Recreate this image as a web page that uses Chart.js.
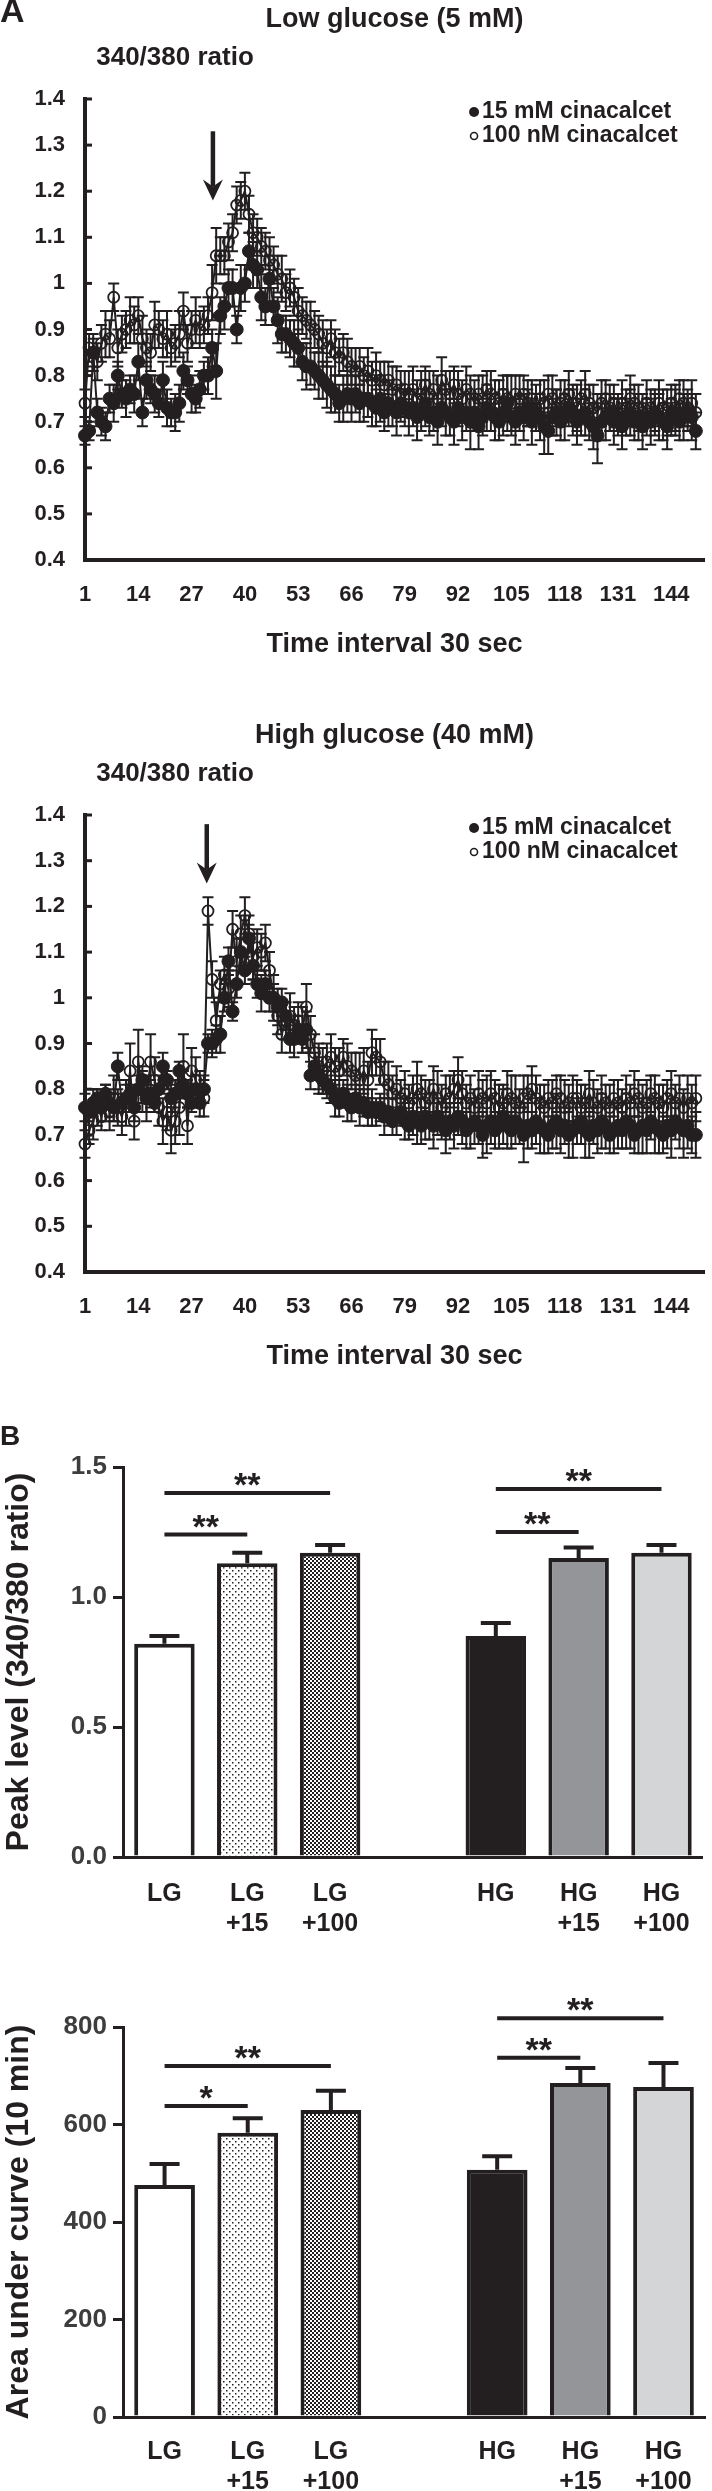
<!DOCTYPE html>
<html>
<head>
<meta charset="utf-8">
<title>Cinacalcet calcium response</title>
<script src="https://cdn.jsdelivr.net/npm/chart.js@4.4.1/dist/chart.umd.min.js"></script>
<style>
  html, body { margin: 0; padding: 0; background: #fff; }
  #page { position: relative; width: 712px; height: 2491px; }
  canvas { position: absolute; left: 0; }
</style>
</head>
<body>
<div id="page">
  <canvas id="lowGlu" width="712" height="668" style="top:0px"></canvas>
  <canvas id="highGlu" width="712" height="712" style="top:668px"></canvas>
  <canvas id="peak" width="712" height="580" style="top:1380px"></canvas>
  <canvas id="auc" width="712" height="531" style="top:1960px"></canvas>
</div>
<script>
const INK = '#231f20';
const FONT = '"Liberation Sans", Arial, Helvetica, sans-serif';
Chart.defaults.font.family = FONT;
Chart.defaults.color = INK;

// ---- panel A: 340/380 ratio traces, one point every 30 s ----
const timeTicks = [1, 14, 27, 40, 53, 66, 79, 92, 105, 118, 131, 144];
const seriesNames = ['15 mM cinacalcet', '100 nM cinacalcet'];

const lowFilled = [
  0.67,0.68,0.85,0.72,0.70,0.69,0.75,0.74,0.80,0.76,
  0.75,0.77,0.76,0.83,0.72,0.79,0.77,0.76,0.74,0.79,
  0.73,0.72,0.72,0.74,0.81,0.79,0.76,0.75,0.77,0.80,
  0.80,0.86,0.81,0.93,0.95,0.99,0.99,0.90,0.99,1.00,
  1.07,1.04,1.03,0.97,0.95,1.01,0.95,0.92,0.89,0.89,
  0.88,0.87,0.86,0.83,0.82,0.82,0.81,0.80,0.79,0.78,
  0.77,0.76,0.74,0.75,0.76,0.75,0.76,0.74,0.75,0.75,
  0.74,0.73,0.75,0.72,0.74,0.73,0.72,0.74,0.73,0.72,
  0.73,0.71,0.72,0.74,0.71,0.72,0.70,0.73,0.72,0.71,
  0.70,0.73,0.71,0.72,0.70,0.72,0.69,0.71,0.73,0.72,
  0.71,0.70,0.72,0.74,0.71,0.70,0.72,0.71,0.73,0.70,
  0.72,0.71,0.69,0.68,0.71,0.72,0.70,0.71,0.73,0.72,
  0.70,0.71,0.72,0.70,0.69,0.67,0.70,0.71,0.72,0.70,
  0.71,0.69,0.71,0.72,0.70,0.71,0.69,0.71,0.70,0.72,
  0.71,0.70,0.69,0.71,0.72,0.70,0.71,0.72,0.71,0.68];
const lowFilledErr = [
  0.02,0.02,0.04,0.03,0.03,0.03,0.03,0.04,0.03,0.03,
  0.04,0.03,0.04,0.04,0.03,0.04,0.03,0.04,0.03,0.04,
  0.04,0.03,0.04,0.04,0.04,0.03,0.04,0.03,0.04,0.03,
  0.04,0.04,0.06,0.04,0.05,0.04,0.04,0.03,0.05,0.04,
  0.04,0.05,0.04,0.05,0.04,0.05,0.04,0.05,0.04,0.04,
  0.04,0.05,0.04,0.04,0.05,0.04,0.04,0.05,0.04,0.05,
  0.05,0.04,0.04,0.05,0.04,0.05,0.04,0.04,0.05,0.04,
  0.05,0.04,0.05,0.04,0.05,0.04,0.05,0.04,0.04,0.05,
  0.04,0.05,0.04,0.05,0.04,0.04,0.05,0.04,0.05,0.04,
  0.05,0.04,0.05,0.04,0.06,0.04,0.05,0.04,0.05,0.04,
  0.05,0.04,0.05,0.06,0.04,0.05,0.04,0.05,0.04,0.05,
  0.04,0.05,0.06,0.05,0.04,0.05,0.04,0.05,0.04,0.05,
  0.05,0.04,0.05,0.04,0.05,0.06,0.04,0.05,0.04,0.05,
  0.04,0.05,0.04,0.05,0.04,0.05,0.05,0.04,0.05,0.04,
  0.05,0.04,0.05,0.04,0.05,0.04,0.05,0.04,0.05,0.04];
const lowOpen = [
  0.74,0.86,0.85,0.83,0.87,0.89,0.88,0.97,0.86,0.89,
  0.90,0.92,0.91,0.93,0.88,0.86,0.85,0.91,0.90,0.88,
  0.89,0.86,0.87,0.89,0.94,0.87,0.90,0.92,0.90,0.91,
  0.93,0.98,1.06,1.06,1.06,1.09,1.11,1.17,1.18,1.20,
  1.15,1.11,1.10,1.08,1.07,1.05,1.04,1.02,1.01,0.98,
  0.99,0.97,0.94,0.93,0.92,0.91,0.90,0.89,0.87,0.86,
  0.88,0.85,0.84,0.85,0.83,0.82,0.81,0.82,0.80,0.81,
  0.79,0.80,0.79,0.78,0.79,0.77,0.78,0.76,0.77,0.76,
  0.77,0.75,0.76,0.78,0.76,0.77,0.75,0.79,0.77,0.76,
  0.78,0.76,0.75,0.77,0.76,0.74,0.76,0.75,0.77,0.76,
  0.75,0.74,0.76,0.75,0.74,0.76,0.75,0.76,0.74,0.75,
  0.73,0.75,0.74,0.76,0.75,0.73,0.74,0.75,0.76,0.74,
  0.73,0.75,0.76,0.74,0.73,0.72,0.74,0.75,0.73,0.74,
  0.72,0.74,0.73,0.75,0.74,0.73,0.72,0.74,0.73,0.72,
  0.74,0.73,0.72,0.74,0.73,0.75,0.74,0.73,0.74,0.72];
const lowOpenErr = [
  0.03,0.03,0.03,0.04,0.04,0.05,0.04,0.03,0.04,0.04,
  0.04,0.05,0.04,0.04,0.05,0.04,0.04,0.05,0.04,0.04,
  0.05,0.04,0.04,0.05,0.04,0.04,0.04,0.05,0.04,0.04,
  0.04,0.06,0.06,0.04,0.04,0.04,0.04,0.04,0.04,0.04,
  0.04,0.04,0.04,0.04,0.04,0.05,0.04,0.04,0.05,0.04,
  0.04,0.04,0.05,0.04,0.04,0.05,0.04,0.04,0.05,0.04,
  0.04,0.05,0.04,0.04,0.05,0.04,0.05,0.04,0.04,0.05,
  0.04,0.05,0.04,0.05,0.04,0.05,0.04,0.05,0.04,0.05,
  0.05,0.04,0.05,0.04,0.05,0.04,0.05,0.05,0.04,0.05,
  0.04,0.05,0.04,0.05,0.04,0.05,0.04,0.05,0.04,0.05,
  0.04,0.05,0.04,0.05,0.06,0.04,0.05,0.04,0.05,0.04,
  0.05,0.04,0.05,0.04,0.05,0.04,0.05,0.04,0.05,0.04,
  0.05,0.04,0.05,0.04,0.05,0.04,0.05,0.04,0.05,0.04,
  0.04,0.05,0.04,0.05,0.04,0.05,0.04,0.05,0.04,0.05,
  0.05,0.04,0.05,0.04,0.05,0.04,0.05,0.04,0.05,0.04];

const highFilled = [
  0.76,0.75,0.77,0.78,0.76,0.79,0.77,0.76,0.85,0.77,
  0.78,0.79,0.76,0.80,0.82,0.78,0.79,0.77,0.80,0.85,
  0.82,0.78,0.79,0.84,0.81,0.79,0.77,0.80,0.77,0.80,
  0.90,0.90,0.91,0.92,1.00,1.08,0.97,1.03,1.10,1.06,
  1.13,1.07,1.03,1.01,1.03,1.00,1.00,0.98,0.99,0.96,
  0.91,0.91,0.93,0.91,0.93,0.83,0.85,0.83,0.82,0.81,
  0.80,0.78,0.77,0.79,0.77,0.76,0.78,0.76,0.77,0.75,
  0.76,0.75,0.76,0.74,0.75,0.73,0.74,0.75,0.73,0.72,
  0.74,0.73,0.72,0.74,0.73,0.72,0.74,0.73,0.71,0.73,
  0.72,0.74,0.73,0.71,0.72,0.73,0.72,0.70,0.72,0.73,
  0.71,0.72,0.74,0.72,0.71,0.73,0.72,0.70,0.72,0.71,
  0.73,0.72,0.71,0.70,0.72,0.73,0.71,0.72,0.70,0.71,
  0.72,0.73,0.71,0.70,0.72,0.71,0.73,0.72,0.70,0.71,
  0.72,0.71,0.73,0.72,0.70,0.71,0.72,0.71,0.73,0.72,
  0.71,0.70,0.72,0.71,0.73,0.72,0.71,0.72,0.70,0.70];
const highFilledErr = [
  0.03,0.02,0.03,0.02,0.03,0.02,0.03,0.03,0.03,0.02,
  0.03,0.02,0.03,0.03,0.02,0.03,0.03,0.02,0.03,0.03,
  0.02,0.03,0.03,0.02,0.03,0.03,0.02,0.03,0.03,0.03,
  0.02,0.03,0.03,0.04,0.03,0.03,0.02,0.03,0.03,0.03,
  0.03,0.03,0.03,0.04,0.03,0.03,0.03,0.04,0.03,0.03,
  0.03,0.04,0.03,0.03,0.04,0.03,0.03,0.04,0.03,0.03,
  0.03,0.04,0.03,0.03,0.04,0.03,0.03,0.04,0.03,0.03,
  0.04,0.03,0.03,0.04,0.03,0.03,0.04,0.03,0.04,0.03,
  0.04,0.05,0.04,0.05,0.04,0.05,0.04,0.04,0.05,0.04,
  0.05,0.04,0.05,0.04,0.05,0.05,0.04,0.05,0.06,0.05,
  0.04,0.05,0.06,0.05,0.04,0.05,0.04,0.06,0.05,0.04,
  0.05,0.06,0.05,0.04,0.05,0.06,0.05,0.04,0.05,0.06,
  0.04,0.05,0.06,0.05,0.04,0.05,0.06,0.05,0.04,0.05,
  0.05,0.04,0.06,0.05,0.04,0.05,0.06,0.05,0.04,0.06,
  0.05,0.04,0.05,0.06,0.04,0.05,0.06,0.05,0.04,0.05];
const highOpen = [
  0.68,0.71,0.73,0.76,0.74,0.77,0.75,0.78,0.76,0.74,
  0.77,0.84,0.73,0.86,0.80,0.78,0.86,0.82,0.76,0.73,
  0.75,0.71,0.73,0.76,0.85,0.72,0.84,0.82,0.80,0.78,
  1.19,1.04,0.95,1.03,1.05,1.02,1.15,1.08,1.14,1.18,
  1.14,1.09,1.11,1.10,1.12,1.06,1.00,0.96,0.92,0.95,
  0.96,0.94,0.95,0.93,0.98,0.92,0.88,0.85,0.84,0.86,
  0.87,0.85,0.84,0.87,0.85,0.84,0.83,0.82,0.84,0.82,
  0.88,0.87,0.86,0.82,0.81,0.79,0.80,0.78,0.79,0.77,
  0.78,0.80,0.79,0.77,0.78,0.80,0.78,0.76,0.79,0.78,
  0.80,0.82,0.79,0.77,0.78,0.76,0.79,0.78,0.77,0.79,
  0.78,0.76,0.77,0.79,0.78,0.77,0.76,0.78,0.79,0.80,
  0.78,0.77,0.76,0.78,0.77,0.79,0.78,0.76,0.77,0.78,
  0.78,0.76,0.77,0.79,0.77,0.76,0.78,0.77,0.76,0.78,
  0.77,0.76,0.78,0.77,0.79,0.78,0.76,0.77,0.79,0.78,
  0.77,0.76,0.78,0.79,0.77,0.78,0.76,0.78,0.77,0.78];
const highOpenErr = [
  0.03,0.03,0.04,0.04,0.03,0.04,0.04,0.05,0.04,0.04,
  0.05,0.06,0.04,0.07,0.05,0.05,0.06,0.05,0.04,0.05,
  0.04,0.05,0.05,0.06,0.07,0.04,0.05,0.05,0.04,0.04,
  0.03,0.04,0.04,0.03,0.04,0.04,0.04,0.05,0.04,0.04,
  0.04,0.05,0.04,0.04,0.04,0.04,0.05,0.04,0.04,0.04,
  0.05,0.04,0.04,0.05,0.05,0.04,0.04,0.05,0.05,0.04,
  0.05,0.04,0.05,0.04,0.05,0.04,0.05,0.06,0.05,0.04,
  0.05,0.04,0.05,0.04,0.05,0.04,0.05,0.04,0.05,0.04,
  0.05,0.06,0.04,0.05,0.04,0.05,0.06,0.05,0.04,0.05,
  0.04,0.05,0.05,0.04,0.05,0.04,0.05,0.04,0.06,0.05,
  0.04,0.05,0.04,0.05,0.05,0.06,0.04,0.05,0.04,0.05,
  0.05,0.04,0.05,0.04,0.05,0.04,0.05,0.06,0.04,0.05,
  0.04,0.05,0.04,0.05,0.05,0.04,0.05,0.04,0.05,0.04,
  0.05,0.04,0.05,0.04,0.05,0.04,0.05,0.05,0.04,0.05,
  0.04,0.05,0.04,0.05,0.04,0.05,0.04,0.05,0.04,0.05];

// arrow: [time index, from ratio, to ratio]
const lowArrow = [32.2, 1.33, 1.18];
const highArrow = [30.7, 1.38, 1.25];

// ---- panel B: summary bars ----
const groups = ['LG', ['LG', '+15'], ['LG', '+100'], '', 'HG', ['HG', '+15'], ['HG', '+100']];
const peakMean = [0.82, 1.13, 1.17, null, 0.85, 1.15, 1.17];
const peakSem = [0.03, 0.04, 0.03, null, 0.05, 0.04, 0.03];
const aucMean = [476, 583, 630, null, 507, 685, 677];
const aucSem = [43, 30, 39, null, 28, 31, 49];
const sigPairs = [[0, 2], [0, 1], [4, 6], [4, 5]];
const peakSigLevels = [1.40, 1.24, 1.415, 1.25];
const peakSigMarks = ['**', '**', '**', '**'];
const aucSigLevels = [720, 638, 818, 737];
const aucSigMarks = ['**', '*', '**', '**'];

// error bars for any dataset that carries an `errors` array
Chart.register({
  id: 'errorBars',
  beforeDatasetDraw(chart, args) {
    const ds = chart.data.datasets[args.index];
    if (!ds.errors) return;
    const ctx = chart.ctx, ys = chart.scales.y;
    ctx.save();
    ctx.strokeStyle = INK;
    ctx.lineWidth = ds.errWidth;
    args.meta.data.forEach((el, i) => {
      const raw = ds.data[i];
      const v = raw !== null && typeof raw === 'object' ? raw.y : raw;
      const e = ds.errors[i];
      if (v == null || e == null) return;
      const top = ys.getPixelForValue(v + e);
      const bot = ds.errUp ? el.y : ys.getPixelForValue(v - e);
      const w = ds.errCap;
      ctx.beginPath();
      ctx.moveTo(el.x, top); ctx.lineTo(el.x, bot);
      ctx.moveTo(el.x - w, top); ctx.lineTo(el.x + w, top);
      if (!ds.errUp) { ctx.moveTo(el.x - w, bot); ctx.lineTo(el.x + w, bot); }
      ctx.stroke();
    });
    ctx.restore();
  }
});

function traceDecor(opt) {
  return {
    id: 'traceDecor',
    afterDraw(chart) {
      const { ctx, chartArea: a, scales: { x, y } } = chart;
      ctx.save();
      ctx.fillStyle = INK;
      ctx.strokeStyle = INK;
      // small inward ticks on the y axis
      ctx.lineWidth = 3;
      y.ticks.forEach(t => {
        const py = y.getPixelForValue(t.value);
        ctx.beginPath(); ctx.moveTo(a.left, py); ctx.lineTo(a.left + 7, py); ctx.stroke();
      });
      ctx.textBaseline = 'middle';
      if (opt.panel) {
        ctx.font = 'bold 34px ' + FONT;
        ctx.textAlign = 'left';
        ctx.fillText(opt.panel, 0, 13);
      }
      ctx.textAlign = 'center';
      ctx.font = 'bold 27px ' + FONT;
      ctx.fillText(opt.title, (a.left + a.right) / 2, a.top - 79);
      ctx.font = 'bold 26px ' + FONT;
      ctx.fillText('340/380 ratio', a.left + 90, a.top - 41);

      // legend, top right inside the plot
      ctx.font = 'bold 23px ' + FONT;
      ctx.textAlign = 'left';
      chart.data.datasets.forEach((ds, i) => {
        const lx = a.right - 230, ly = a.top + 13 + i * 24;
        ctx.beginPath();
        ctx.arc(lx, ly, i ? 3.5 : 5, 0, Math.PI * 2);
        if (i) { ctx.lineWidth = 1.6; ctx.stroke(); } else { ctx.fill(); }
        ctx.fillText(ds.label, lx + 8, ly);
      });

      // stimulus arrow
      const [ax, from, to] = opt.arrow;
      const px = x.getPixelForValue(ax);
      const y0 = y.getPixelForValue(from), y1 = y.getPixelForValue(to);
      ctx.lineWidth = 4.5;
      ctx.beginPath(); ctx.moveTo(px, y0); ctx.lineTo(px, y1 - 14); ctx.stroke();
      ctx.beginPath();
      ctx.moveTo(px - 10, y1 - 21);
      ctx.lineTo(px, y1 - 14);
      ctx.lineTo(px + 10, y1 - 21);
      ctx.lineTo(px, y1);
      ctx.closePath();
      ctx.fill();
      ctx.restore();
    }
  };
}

function traceChart(id, opt) {
  const xy = arr => arr.map((v, i) => ({ x: i + 1, y: v }));
  return new Chart(document.getElementById(id), {
    type: 'line',
    data: {
      datasets: [{
        label: seriesNames[0], data: xy(opt.filled), errors: opt.filledErr, errCap: 5.5, errWidth: 2,
        borderColor: INK, borderWidth: 2, pointRadius: 6.5, pointBackgroundColor: INK,
        pointBorderColor: INK, pointBorderWidth: 1, clip: false
      }, {
        label: seriesNames[1], data: xy(opt.open), errors: opt.openErr, errCap: 5.5, errWidth: 2,
        borderColor: INK, borderWidth: 2, pointRadius: 5.5, pointBackgroundColor: 'rgba(255,255,255,0)',
        pointBorderColor: INK, pointBorderWidth: 1.8, clip: false
      }]
    },
    options: {
      responsive: false,
      animation: false,
      events: [],
      layout: { padding: { top: opt.top, right: 7, left: 0, bottom: 0 } },
      plugins: { legend: { display: false }, tooltip: { enabled: false } },
      scales: {
        x: {
          type: 'linear', min: 1, max: 152,
          afterBuildTicks: s => { s.ticks = timeTicks.map(v => ({ value: v })); },
          afterFit: s => { s.height = 108; },
          grid: { display: false, drawTicks: false },
          border: { color: INK, width: 4 },
          ticks: { padding: 22, autoSkip: false, maxRotation: 0, color: INK, font: { size: 22, weight: 'bold' } },
          title: { display: true, text: 'Time interval 30 sec', color: INK, font: { size: 27, weight: 'bold' }, padding: { top: 0, bottom: 7 } }
        },
        y: {
          min: 0.4, max: 1.4,
          afterFit: s => { s.width = 85; },
          grid: { display: false, drawTicks: false },
          border: { color: INK, width: 4 },
          ticks: { stepSize: 0.1, padding: 20, color: INK, font: { size: 22, weight: 'bold' },
                   callback: v => String(Math.round(v * 10) / 10) }
        }
      }
    },
    plugins: [traceDecor(opt)]
  });
}

function tile(size, draw) {
  const c = document.createElement('canvas');
  c.width = c.height = size;
  const g = c.getContext('2d');
  draw(g);
  return g.createPattern(c, 'repeat');
}
const lightDots = tile(6, g => {
  g.fillStyle = '#fff'; g.fillRect(0, 0, 6, 6);
  g.fillStyle = INK;
  g.fillRect(1, 1, 1.5, 1.5); g.fillRect(4, 4, 1.5, 1.5);
});
const denseDots = tile(4, g => {
  g.fillStyle = '#fff'; g.fillRect(0, 0, 4, 4);
  g.fillStyle = INK;
  g.fillRect(0, 0, 2, 2); g.fillRect(2, 2, 2, 2);
});
const barFills = ['#ffffff', lightDots, denseDots, '#ffffff', INK, '#939598', '#d4d5d7'];

function barDecor(opt) {
  return {
    id: 'barDecor',
    afterDatasetsDraw(chart) {
      const { ctx, scales: { x, y } } = chart;
      ctx.save();
      ctx.strokeStyle = INK;
      ctx.fillStyle = INK;
      ctx.lineWidth = 4;
      ctx.font = 'bold 34px ' + FONT;
      ctx.textAlign = 'center';
      ctx.textBaseline = 'alphabetic';
      sigPairs.forEach(([i, j], k) => {
        const x0 = x.getPixelForValue(i), x1 = x.getPixelForValue(j);
        const py = y.getPixelForValue(opt.sigLevels[k]);
        ctx.beginPath(); ctx.moveTo(x0, py); ctx.lineTo(x1, py); ctx.stroke();
        ctx.fillText(opt.sigMarks[k], (x0 + x1) / 2, py + 3);
      });
      if (opt.panel) {
        ctx.font = 'bold 28px ' + FONT;
        ctx.textAlign = 'left';
        ctx.textBaseline = 'middle';
        ctx.fillText(opt.panel, 0, 57);
      }
      ctx.restore();
    }
  };
}

function barChart(id, opt) {
  return new Chart(document.getElementById(id), {
    type: 'bar',
    data: {
      labels: groups,
      datasets: [{
        data: opt.mean, errors: opt.sem, errUp: true, errCap: 15, errWidth: 4,
        backgroundColor: barFills, borderColor: INK, borderWidth: 4,
        barPercentage: 0.73, categoryPercentage: 1
      }]
    },
    options: {
      responsive: false,
      animation: false,
      events: [],
      layout: { padding: { top: opt.top, right: 5, left: 0, bottom: 0 } },
      plugins: { legend: { display: false }, tooltip: { enabled: false } },
      scales: {
        x: {
          afterFit: s => { s.height = opt.axisH; },
          grid: { display: false, drawTicks: false },
          border: { color: INK, width: 3 },
          ticks: { padding: opt.labelPad, autoSkip: false, maxRotation: 0, color: INK, font: { size: 25, weight: 'bold' } }
        },
        y: {
          min: 0, max: opt.max,
          afterFit: s => { s.width = 123; },
          grid: { drawOnChartArea: false, tickLength: 10, lineWidth: 3, color: INK },
          border: { color: INK, width: 3 },
          ticks: { stepSize: opt.step, padding: 6, color: '#3d3d3d', font: { size: 26, weight: 'bold' }, callback: opt.fmt },
          title: { display: true, text: opt.yTitle, color: INK, font: { size: 32, weight: 'bold' }, padding: 0 }
        }
      }
    },
    plugins: [barDecor(opt)]
  });
}

traceChart('lowGlu', {
  panel: 'A', title: 'Low glucose (5 mM)', top: 99,
  filled: lowFilled, filledErr: lowFilledErr, open: lowOpen, openErr: lowOpenErr, arrow: lowArrow
});
traceChart('highGlu', {
  title: 'High glucose (40 mM)', top: 147,
  filled: highFilled, filledErr: highFilledErr, open: highOpen, openErr: highOpenErr, arrow: highArrow
});
barChart('peak', {
  panel: 'B', top: 87, axisH: 103, labelPad: 22, max: 1.5, step: 0.5,
  fmt: v => v.toFixed(1), yTitle: 'Peak level (340/380 ratio)',
  mean: peakMean, sem: peakSem, sigLevels: peakSigLevels, sigMarks: peakSigMarks
});
barChart('auc', {
  top: 67, axisH: 74, labelPad: 20, max: 800, step: 200,
  fmt: v => String(v), yTitle: 'Area under curve (10 min)',
  mean: aucMean, sem: aucSem, sigLevels: aucSigLevels, sigMarks: aucSigMarks
});
</script>
</body>
</html>
